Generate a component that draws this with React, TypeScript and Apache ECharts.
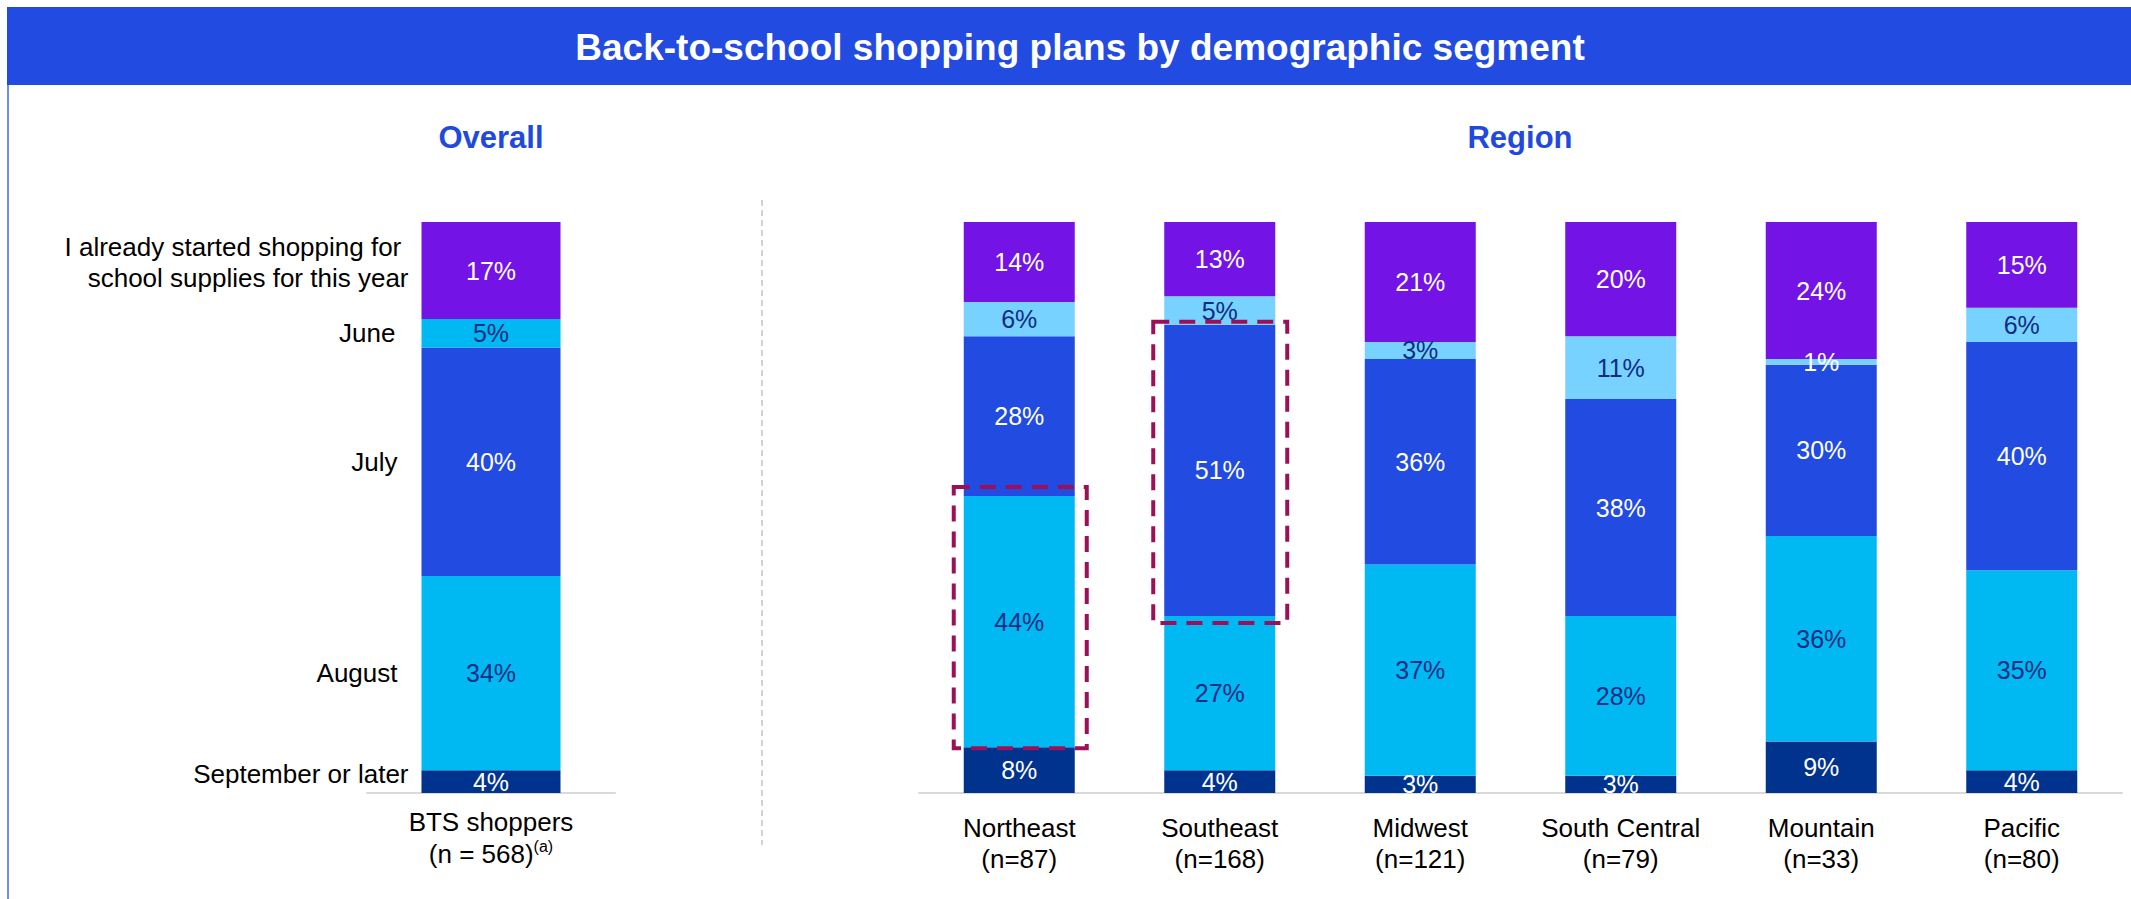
import React, { useEffect, useRef } from "react";
import * as echarts from "echarts";

// ---------- data ----------
const segmentNames = [
  "I already started shopping for \nschool supplies for this year",
  "June",
  "July",
  "August",
  "September or later",
];
const overallCategory = ["BTS shoppers"];
const overallN = "568";
const overallValues = [17, 5, 40, 34, 4]; // started, June, July, August, Sept+

const regions = ["Northeast", "Southeast", "Midwest", "South Central", "Mountain", "Pacific"];
const regionN = [87, 168, 121, 79, 33, 80];
const startedValues = [14, 13, 21, 20, 24, 15];
const juneValues = [6, 5, 3, 11, 1, 6];
const julyValues = [28, 51, 36, 38, 30, 40];
const augustValues = [44, 27, 37, 28, 36, 35];
const septValues = [8, 4, 3, 3, 9, 4];

const highlights = [
  { region: "Northeast", segment: 3 },
  { region: "Southeast", segment: 2 },
];

// ---------- style ----------
const FONT = "Arial, 'Liberation Sans', sans-serif";
const PURPLE = "#7413E6";
const LIGHT = "#78D2FF";
const BLUE = "#214BE1";
const CYAN = "#00B9F3";
const NAVY = "#00338E";
const LABEL_NAVY = "#0E2C82";
const WHITE = "#FFFFFF";

const overallColors = [PURPLE, CYAN, BLUE, CYAN, NAVY];
const regionColors = [PURPLE, LIGHT, BLUE, CYAN, NAVY];
const labelColors = [WHITE, LABEL_NAVY, WHITE, LABEL_NAVY, WHITE];

const OVERALL_BAR = 139;
const REGION_BAR = 111;

export default function App() {
  const ref = useRef<HTMLDivElement>(null);

  useEffect(() => {
    if (!ref.current) return;
    const chart = echarts.init(ref.current, undefined, { renderer: "svg" });

    const regionSeriesValues = [startedValues, juneValues, julyValues, augustValues, septValues];
    // stacking order bottom -> top
    const order = [4, 3, 2, 1, 0];

    const nameDistances = [13, 26, 24, 24, 13];
    const nameOffsets: number[][] = [[0, -8], [0, 0], [0, 0], [0, 0], [0, -8]];

    const series: any[] = [];
    order.forEach((s) => {
      series.push({
        type: "bar",
        name: segmentNames[s],
        stack: "overall",
        xAxisIndex: 0,
        yAxisIndex: 0,
        barWidth: OVERALL_BAR,
        data: [
          {
            value: overallValues[s],
            itemStyle: { color: overallColors[s] },
          },
        ],
        label: {
          show: true,
          position: "inside",
          formatter: "{c}%",
          color: labelColors[s],
          fontSize: 25,
          fontFamily: FONT,
          textBorderWidth: 0,
        },
      });
    });
    order.forEach((s) => {
      series.push({
        type: "bar",
        name: "label-" + s,
        stack: "names",
        xAxisIndex: 1,
        yAxisIndex: 0,
        barWidth: OVERALL_BAR,
        silent: true,
        itemStyle: { color: "rgba(0,0,0,0)" },
        data: [overallValues[s]],
        label: {
          show: true,
          position: "left",
          distance: nameDistances[s],
          offset: nameOffsets[s],
          formatter: () => segmentNames[s],
          color: "#000",
          fontSize: 26,
          lineHeight: 31,
          align: "right",
          fontFamily: FONT,
          textBorderWidth: 0,
        },
      });
    });
    order.forEach((s) => {
      series.push({
        type: "bar",
        name: segmentNames[s],
        stack: "region",
        xAxisIndex: 2,
        yAxisIndex: 1,
        barWidth: REGION_BAR,
        data: regionSeriesValues[s].map((v) => ({
          value: v,
          itemStyle: { color: regionColors[s] },
          label: { color: s === 1 && v < 2 ? WHITE : labelColors[s] },
        })),
        label: {
          show: true,
          position: "inside",
          formatter: "{c}%",
          fontSize: 25,
          fontFamily: FONT,
          textBorderWidth: 0,
        },
      });
    });

    const axisLine = { show: true, lineStyle: { color: "#D9D9D9", width: 2 } };

    const baseGraphic: any[] = [
      {
        type: "rect",
        shape: { x: 7, y: 7, width: 2124, height: 78 },
        style: { fill: BLUE },
      },
      {
        type: "line",
        shape: { x1: 8, y1: 85, x2: 8, y2: 899 },
        style: { stroke: "#6E8BF0", lineWidth: 2 },
      },
      {
        type: "text",
        x: 1080,
        y: 47,
        style: {
          text: "Back-to-school shopping plans by demographic segment",
          fill: WHITE,
          fontSize: 37,
          fontWeight: "bold",
          fontFamily: FONT,
          textAlign: "center",
          textVerticalAlign: "middle",
        },
      },
      {
        type: "text",
        x: 491,
        y: 137,
        style: {
          text: "Overall",
          fill: "#2249DE",
          fontSize: 31,
          fontWeight: "bold",
          fontFamily: FONT,
          textAlign: "center",
          textVerticalAlign: "middle",
        },
      },
      {
        type: "text",
        x: 1520,
        y: 137,
        style: {
          text: "Region",
          fill: "#2249DE",
          fontSize: 31,
          fontWeight: "bold",
          fontFamily: FONT,
          textAlign: "center",
          textVerticalAlign: "middle",
        },
      },
      {
        type: "line",
        shape: { x1: 762, y1: 200, x2: 762, y2: 845 },
        style: { stroke: "#C4C4C4", lineWidth: 1.5, lineDash: [6, 4] },
      },
    ];

    chart.setOption({
      animation: false,
      backgroundColor: "#FFFFFF",
      textStyle: { fontFamily: FONT },
      grid: [
        { left: 367, top: 222, width: 248, height: 571, containLabel: false },
        { left: 919, top: 222, width: 1203, height: 571, containLabel: false },
      ],
      xAxis: [
        {
          type: "category",
          gridIndex: 0,
          data: overallCategory,
          axisLine,
          axisTick: { show: false },
          axisLabel: {
            margin: 13,
            color: "#000",
            fontSize: 26,
            lineHeight: 32,
            fontFamily: FONT,
            formatter: (v: string) => `${v}\n(n = ${overallN}){sup|(a)}`,
            rich: {
              sup: {
                fontSize: 16,
                lineHeight: 32,
                verticalAlign: "top",
                padding: [0, 0, 10, 0],
                color: "#000",
                fontFamily: FONT,
              },
            },
          },
        },
        {
          type: "category",
          gridIndex: 0,
          data: overallCategory,
          show: false,
        },
        {
          type: "category",
          gridIndex: 1,
          data: regions,
          axisLine,
          axisTick: { show: false },
          axisLabel: {
            margin: 19,
            color: "#000",
            fontSize: 26,
            lineHeight: 31,
            fontFamily: FONT,
            interval: 0,
            formatter: (v: string, i: number) => `${v}\n(n=${regionN[i]})`,
          },
        },
      ],
      yAxis: [
        { type: "value", gridIndex: 0, min: 0, max: 100, show: false },
        { type: "value", gridIndex: 1, min: 0, max: 100, show: false },
      ],
      series,
      graphic: baseGraphic,
    });

    // highlight boxes computed through the chart's own scales
    const boxPads = [
      { l: 10, r: 12, t: 9, b: 1 },
      { l: 11, r: 12, t: 3, b: 7 },
    ];
    const rects = highlights.map((h, k) => {
      const ci = regions.indexOf(h.region);
      const pos = order.indexOf(h.segment);
      let base = 0;
      for (let j = 0; j < pos; j++) base += regionSeriesValues[order[j]][ci];
      const topVal = base + regionSeriesValues[h.segment][ci];
      const p0 = chart.convertToPixel({ gridIndex: 1 }, [ci, base]) as number[];
      const p1 = chart.convertToPixel({ gridIndex: 1 }, [ci, topVal]) as number[];
      const pad = boxPads[k];
      const x = p0[0] - REGION_BAR / 2 - pad.l;
      const y = p1[1] - pad.t;
      return {
        type: "rect",
        z: 100,
        shape: {
          x,
          y,
          width: REGION_BAR + pad.l + pad.r,
          height: p0[1] - p1[1] + pad.t + pad.b,
        },
        style: {
          fill: "none",
          stroke: "#9B1058",
          lineWidth: 4,
          lineDash: [16, 10],
        },
      };
    });
    chart.setOption({ graphic: [...baseGraphic, ...rects] });

    return () => chart.dispose();
  }, []);

  return (
    <div
      ref={ref}
      style={{ position: "fixed", left: 0, top: 0, width: 2131, height: 899, background: "#fff" }}
    />
  );
}
